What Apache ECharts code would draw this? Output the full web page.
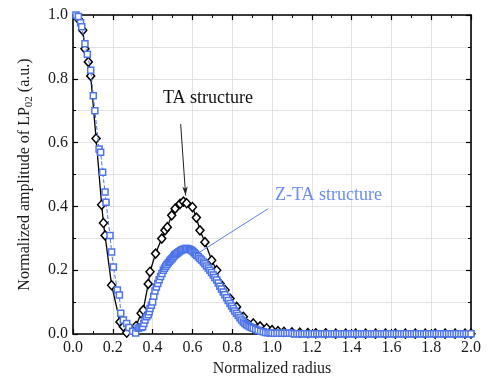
<!DOCTYPE html>
<html>
<head>
<meta charset="utf-8">
<script src="https://cdn.jsdelivr.net/npm/echarts@6/dist/echarts.min.js"></script>
<style>html,body{margin:0;padding:0;background:#fff}#c{width:489px;height:383px}</style>
</head>
<body>
<div id="c"></div>
<script>
// ---- data ----
const xTicks = [0.0, 0.2, 0.4, 0.6, 0.8, 1.0, 1.2, 1.4, 1.6, 1.8, 2.0];
const yTicks = [0.0, 0.2, 0.4, 0.6, 0.8, 1.0];

const taX = [0.03,0.049,0.06,0.077,0.089,0.116,0.144,0.153,0.161,0.194,0.236,0.253,0.27,0.317,0.342,0.353,0.378,0.387,0.415,0.446,0.462,0.474,0.496,0.513,0.538,0.555,0.571,0.6,0.62,0.638,0.663,0.697,0.722,0.739,0.764,0.789,0.822,0.856,0.906,0.94,0.973,1.0,1.03,1.06,1.1,1.14,1.18,1.22,1.27,1.32,1.37,1.42,1.47,1.52,1.57,1.62,1.67,1.72,1.77,1.82,1.87,1.92,1.97,2.0];
const taY = [0.985,0.952,0.894,0.853,0.809,0.613,0.405,0.348,0.309,0.153,0.038,0.023,0.004,0.025,0.065,0.075,0.157,0.195,0.252,0.299,0.325,0.335,0.372,0.393,0.408,0.415,0.41,0.398,0.365,0.325,0.288,0.231,0.2,0.158,0.138,0.111,0.085,0.054,0.033,0.024,0.018,0.012,0.009,0.007,0.005,0.004,0.003,0.002,0.002,0.001,0.001,0.001,0.001,0.001,0.001,0.001,0.001,0.001,0.001,0.001,0.001,0.001,0.001,0.001];

const ztaX = [0.015,0.027,0.038,0.044,0.06,0.072,0.089,0.102,0.11,0.131,0.139,0.149,0.161,0.166,0.186,0.194,0.203,0.223,0.233,0.24,0.253,0.27,0.281,0.3,0.315,
  0.328,0.336,0.343,0.35,0.356,0.362,0.37,0.378,0.383,0.387,0.394,0.4,0.406,0.412,0.419,0.426,0.433,0.44,0.447,0.454,0.46,0.466,0.472,0.479,0.485,0.49,0.495,0.5,0.506,0.511,0.516,0.521,0.527,0.533,0.54,0.546,0.552,0.558,0.565,0.571,0.578,0.584,0.59,0.596,0.603,0.609,0.615,0.622,0.63,0.638,0.646,0.655,0.663,0.671,0.68,0.688,0.696,0.705,0.713,0.722,0.73,0.738,0.746,0.755,0.763,0.772,0.78,0.789,0.797,0.805,0.813,0.822,0.83,0.839,0.847,0.856,0.864,0.872,0.88,0.889,0.897,0.906,0.918,0.93,0.943,0.956,0.968,0.98,0.99,1.0];
const ztaY = [1.0,0.995,0.976,0.963,0.91,0.877,0.827,0.747,0.7,0.58,0.57,0.507,0.445,0.413,0.309,0.257,0.21,0.138,0.122,0.065,0.044,0.033,0.02,0.009,0.003,
  0.018,0.02,0.021,0.023,0.033,0.044,0.054,0.06,0.07,0.08,0.09,0.1,0.118,0.135,0.147,0.158,0.17,0.18,0.19,0.2,0.206,0.212,0.218,0.223,0.228,0.232,0.235,0.238,0.243,0.248,0.25,0.252,0.255,0.258,0.261,0.263,0.265,0.266,0.268,0.268,0.267,0.266,0.264,0.262,0.259,0.255,0.251,0.247,0.242,0.237,0.232,0.226,0.22,0.213,0.207,0.2,0.193,0.185,0.177,0.169,0.16,0.15,0.141,0.132,0.123,0.114,0.105,0.096,0.088,0.08,0.072,0.065,0.058,0.051,0.044,0.038,0.033,0.029,0.026,0.023,0.02,0.018,0.015,0.012,0.009,0.007,0.005,0.004,0.0035,0.003];
const ztaTailX = [1.0125,1.025,1.0375,1.05,1.0625,1.075,1.0875,1.1,1.1125,1.125,1.1375,1.15,1.1625,1.175,1.1875,1.2,1.2125,1.225,1.2375,1.25,1.2625,1.275,1.2875,1.3,1.3125,1.325,1.3375,1.35,1.3625,1.375,1.3875,1.4,1.4125,1.425,1.4375,1.45,1.4625,1.475,1.4875,1.5,1.5125,1.525,1.5375,1.55,1.5625,1.575,1.5875,1.6,1.6125,1.625,1.6375,1.65,1.6625,1.675,1.6875,1.7,1.7125,1.725,1.7375,1.75,1.7625,1.775,1.7875,1.8,1.8125,1.825,1.8375,1.85,1.8625,1.875,1.8875,1.9,1.9125,1.925,1.9375,1.95,1.9625,1.975,1.9875,2.0];
const ztaTailY = [0.002,0.002,0.002,0.002,0.002,0.002,0.002,0.002,0.001,0.001,0.001,0.001,0.001,0.001,0.001,0.001,0.001,0.001,0.001,0.001,0.001,0.001,0.001,0.001,0.001,0.001,0.001,0.001,0.001,0.001,0.001,0.001,0.001,0.001,0.001,0.001,0.001,0.001,0.001,0.001,0.001,0.001,0.001,0.001,0.001,0.001,0.001,0.001,0.001,0.001,0.001,0.001,0.001,0.001,0.001,0.001,0.001,0.001,0.001,0.001,0.001,0.001,0.001,0.001,0.001,0.001,0.001,0.001,0.001,0.001,0.001,0.001,0.001,0.001,0.001,0.001,0.001,0.001,0.001,0.001];

const taName = 'TA structure';
const ztaName = 'Z-TA structure';
// annotation arrows in data coordinates [from, to]
const taArrow = [[0.541, 0.658], [0.566, 0.434]];
const ztaArrow = [[0.981, 0.393], [0.638, 0.257]];

// ---- chart ----
const FONT = 'Liberation Serif';
const BLUE = '#4d74e8';
const chart = echarts.init(document.getElementById('c'), null, {renderer: 'canvas'});
const zip = (a, b) => a.map((v, i) => [v, b[i]]);

function xAx(pos, labels) {
  return {
    type: 'value', position: pos, min: 0, max: 2, interval: 0.2,
    axisLine: {show: true, onZero: false, lineStyle: {color: '#000', width: 1.6}},
    axisTick: {show: true, inside: true, length: 5, lineStyle: {color: '#000', width: 1.2}},
    minorTick: {show: true, splitNumber: 2, length: 3, lineStyle: {color: '#000', width: 1}},
    splitLine: {show: labels, lineStyle: {color: '#e3e3e3', width: 1}},
    axisLabel: {show: labels, fontFamily: FONT, fontSize: 16, color: '#1a1a1a', margin: 6,
      formatter: v => xTicks.find(t => Math.abs(t - v) < 1e-9)?.toFixed(1) ?? ''},
    name: labels ? 'Normalized radius' : '', nameLocation: 'middle', nameGap: 25,
    nameTextStyle: {fontFamily: FONT, fontSize: 16, color: '#1a1a1a'}
  };
}
function yAx(pos, labels) {
  return {
    type: 'value', position: pos, min: 0, max: 1, interval: 0.2,
    axisLine: {show: true, onZero: false, lineStyle: {color: '#000', width: 1.6}},
    axisTick: {show: true, inside: true, length: 5, lineStyle: {color: '#000', width: 1.2}},
    minorTick: {show: true, splitNumber: 2, length: 3, lineStyle: {color: '#000', width: 1}},
    splitLine: {show: labels, lineStyle: {color: '#e3e3e3', width: 1}},
    minorSplitLine: {show: labels, lineStyle: {color: '#e3e3e3', width: 1}},
    axisLabel: {show: labels, fontFamily: FONT, fontSize: 16, color: '#1a1a1a', margin: 5,
      formatter: v => yTicks.find(t => Math.abs(t - v) < 1e-9)?.toFixed(1) ?? ''},
    name: labels ? '{a|Normalized amplitude of LP}{s|02}{a| (a.u.)}' : '',
    nameLocation: 'middle', nameGap: 38,
    nameTextStyle: {color: '#1a1a1a', rich: {
      a: {fontFamily: FONT, fontSize: 16, color: '#1a1a1a', lineHeight: 18, verticalAlign: 'top'},
      s: {fontFamily: FONT, fontSize: 11, color: '#1a1a1a', lineHeight: 11, verticalAlign: 'bottom'}
    }}
  };
}

chart.setOption({
  animation: false,
  backgroundColor: '#fff',
  grid: {left: 73, right: 18, top: 15, bottom: 49, containLabel: false},
  xAxis: [xAx('bottom', true), xAx('top', false)],
  yAxis: [yAx('left', true), yAx('right', false)],
  series: [
    {
      name: taName, type: 'line', xAxisIndex: 0, yAxisIndex: 0,
      data: zip(taX, taY),
      symbol: 'diamond', symbolSize: [8, 9], showAllSymbol: true,
      itemStyle: {color: '#fff', borderColor: '#000', borderWidth: 1.5},
      lineStyle: {color: '#000', width: 1.3},
      z: 3,
      markLine: {
        silent: true, animation: false, symbol: ['none', 'arrow'], symbolSize: [4, 9],
        label: {show: false},
        lineStyle: {color: '#222', width: 1, type: 'solid'},
        data: [[{coord: taArrow[0]}, {coord: taArrow[1]}]]
      }
    },
    {
      name: ztaName, type: 'line', xAxisIndex: 0, yAxisIndex: 0,
      data: zip(ztaX.concat(ztaTailX), ztaY.concat(ztaTailY)),
      symbol: 'rect', symbolSize: 6, showAllSymbol: true,
      itemStyle: {color: '#fff', borderColor: BLUE, borderWidth: 1.5},
      lineStyle: {color: BLUE, width: 1, type: 'dashed'},
      z: 4,
      markLine: {
        silent: true, animation: false, symbol: ['none', 'none'],
        label: {show: false},
        lineStyle: {color: '#5b7fe6', width: 1, type: 'solid'},
        data: [[{coord: ztaArrow[0]}, {coord: ztaArrow[1]}]]
      }
    }
  ],
  graphic: [
    {type: 'text', x: 163, y: 98, z: 10,
      style: {text: taName, font: '18px "Liberation Serif"', fill: '#111', verticalAlign: 'middle'}},
    {type: 'text', x: 275, y: 195, z: 10,
      style: {text: ztaName, font: '18px "Liberation Serif"', fill: '#6a8cf0', verticalAlign: 'middle'}}
  ]
});
</script>
</body>
</html>
